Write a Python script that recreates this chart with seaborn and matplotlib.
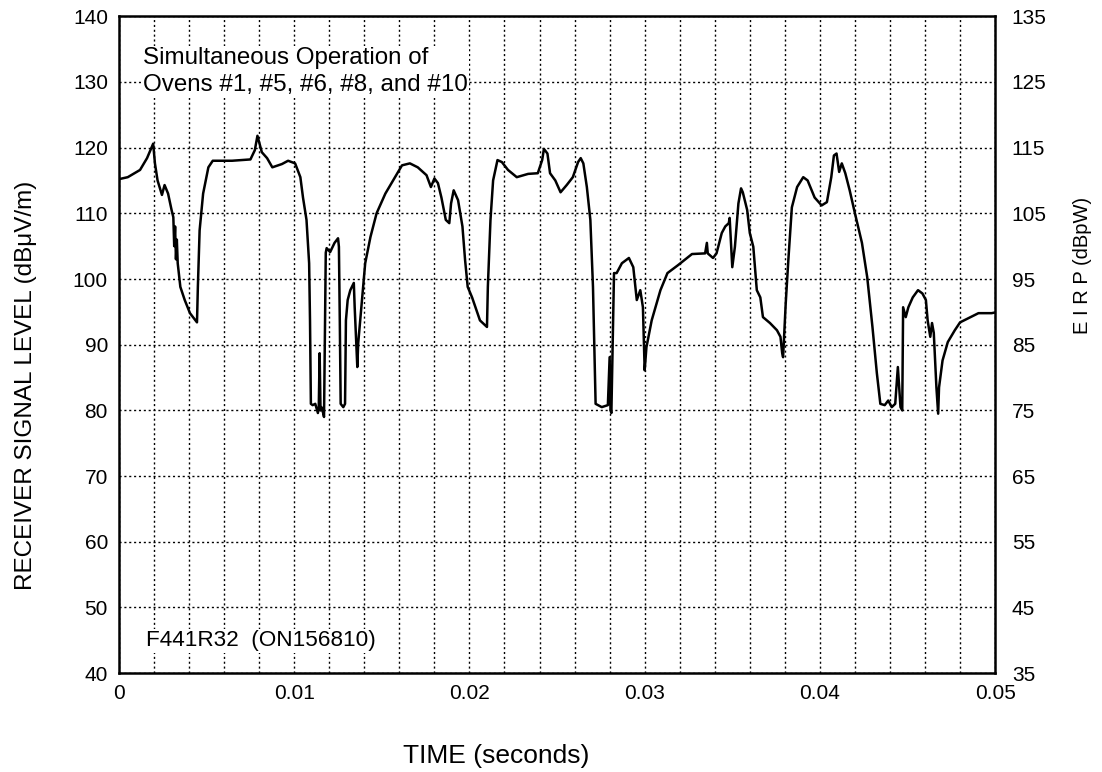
import pandas as pd
import matplotlib
matplotlib.use('Agg')
import matplotlib.pyplot as plt
import seaborn as sns

# time in milliseconds, received level in dBuV/m
time_ms = [0.0, 0.5, 1.2, 1.6, 1.95, 2.05, 2.2, 2.45, 2.6, 2.8, 3.0, 3.1, 3.15, 3.2, 3.25, 3.3, 3.35,
           3.5, 3.75, 4.05, 4.45, 4.5, 4.6, 4.8, 5.1, 5.35, 6.45, 7.5, 7.75, 7.9, 8.0, 8.15, 8.45,
           8.75, 9.3, 9.65, 10.05, 10.35, 10.5, 10.7, 10.85, 10.9, 10.95, 11.05, 11.2, 11.35, 11.4,
           11.45, 11.5, 11.55, 11.65, 11.7, 11.8, 11.85, 12.05, 12.3, 12.5, 12.55, 12.6, 12.65, 12.8,
           12.9, 12.95, 13.05, 13.2, 13.4, 13.45, 13.6, 13.65, 13.85, 14.05, 14.35, 14.7, 15.2,
           15.75, 16.15, 16.6, 17.05, 17.55, 17.8, 18.0, 18.2, 18.4, 18.65, 18.85, 18.95, 19.1,
           19.35, 19.6, 19.75, 19.9, 20.15, 20.6, 21.0, 21.05, 21.2, 21.35, 21.6, 21.85, 22.2, 22.7,
           23.35, 23.9, 24.15, 24.25, 24.45, 24.6, 24.9, 25.2, 25.55, 25.9, 26.2, 26.35, 26.5, 26.7,
           26.9, 27.05, 27.2, 27.55, 27.9, 28.0, 28.05, 28.1, 28.25, 28.4, 28.7, 29.1, 29.35, 29.55,
           29.75, 29.9, 30.0, 30.1, 30.4, 30.9, 31.3, 31.9, 32.7, 33.45, 33.55, 33.6, 33.9, 34.1,
           34.4, 34.6, 34.8, 34.85, 35.0, 35.15, 35.35, 35.5, 35.6, 35.85, 36.0, 36.2, 36.4, 36.6,
           36.75, 37.15, 37.55, 37.75, 37.85, 37.9, 38.05, 38.2, 38.4, 38.7, 39.05, 39.3, 39.7, 40.1,
           40.4, 40.65, 40.8, 40.95, 41.1, 41.25, 41.45, 41.7, 42.0, 42.4, 42.7, 43.0, 43.25, 43.45,
           43.7, 43.9, 44.1, 44.3, 44.45, 44.6, 44.7, 44.75, 44.9, 45.05, 45.3, 45.6, 45.85, 46.05,
           46.15, 46.3, 46.4, 46.5, 46.65, 46.75, 46.8, 47.0, 47.3, 47.7, 48.0, 48.45, 49.05, 49.8,
           50.0]
level_db = [115.2, 115.5, 116.6, 118.4, 120.6, 117.6, 115.0, 112.8, 114.3, 113.0, 110.5, 109.4, 105.0,
            108.0, 103.0, 106.0, 102.4, 98.8, 96.8, 94.8, 93.4, 98.8, 107.4, 113.0, 117.0, 118.0,
            118.0, 118.2, 119.6, 121.8, 120.8, 119.3, 118.4, 117.0, 117.5, 118.0, 117.6, 115.5, 112.4,
            109.0, 102.4, 93.7, 81.0, 80.8, 81.0, 79.6, 80.5, 88.7, 80.0, 80.5, 79.6, 79.0, 104.0,
            104.7, 104.1, 105.5, 106.2, 104.9, 93.7, 81.0, 80.5, 81.0, 93.7, 96.8, 98.3, 99.4, 95.7,
            86.6, 90.2, 96.3, 102.4, 106.4, 110.0, 113.0, 115.5, 117.3, 117.6, 117.0, 115.8, 114.0,
            115.3, 114.6, 112.4, 109.0, 108.5, 111.5, 113.5, 112.0, 108.0, 102.9, 98.8, 97.2, 93.7,
            92.7, 98.8, 109.0, 115.0, 118.1, 117.8, 116.6, 115.5, 116.0, 116.1, 118.1, 119.8, 119.1,
            116.1, 115.0, 113.2, 114.3, 115.5, 117.8, 118.4, 117.6, 114.0, 109.0, 98.8, 81.0, 80.5,
            80.8, 88.1, 80.0, 79.6, 100.9, 100.9, 102.4, 103.2, 101.8, 96.8, 98.3, 95.7, 86.1, 89.6,
            93.7, 98.3, 100.9, 102.1, 103.8, 103.9, 105.5, 103.9, 103.2, 103.9, 107.0, 108.0, 108.5,
            109.3, 101.8, 104.9, 111.5, 113.8, 113.2, 110.5, 107.0, 104.9, 98.3, 97.2, 94.2, 93.3,
            92.2, 91.2, 88.7, 88.1, 96.3, 102.9, 110.9, 114.0, 115.5, 115.0, 112.4, 111.2, 111.7,
            115.5, 118.8, 119.1, 116.3, 117.6, 116.1, 113.5, 110.0, 105.5, 100.3, 92.7, 85.7, 81.0,
            80.8, 81.5, 80.5, 81.0, 86.6, 80.5, 80.0, 95.7, 94.2, 95.7, 97.2, 98.3, 97.8, 96.8, 93.7,
            91.2, 93.3, 91.8, 83.5, 79.5, 83.5, 87.6, 90.4, 92.2, 93.4, 94.0, 94.8, 94.8, 94.9]

x_ticks = [0, 0.01, 0.02, 0.03, 0.04, 0.05]
x_tick_labels = ['0', '0.01', '0.02', '0.03', '0.04', '0.05']
left_ticks = [40, 50, 60, 70, 80, 90, 100, 110, 120, 130, 140]
right_ticks = [35, 45, 55, 65, 75, 85, 95, 105, 115, 125, 135]

df = pd.DataFrame({'time': [t / 1000 for t in time_ms], 'level': level_db})

sns.set_style('white')
plt.rcParams['font.family'] = ['Liberation Sans Narrow', 'Liberation Sans', 'DejaVu Sans']
plt.rcParams['text.color'] = 'black'
plt.rcParams['axes.labelcolor'] = 'black'
plt.rcParams['xtick.color'] = 'black'
plt.rcParams['ytick.color'] = 'black'

fig = plt.figure(figsize=(11.02, 7.72), dpi=100)
ax = fig.add_axes([0.108, 0.128, 0.795, 0.851])

sns.lineplot(data=df, x='time', y='level', ax=ax, color='black', linewidth=1.8,
             sort=False, estimator=None)

ax.set_xlim(0, 0.05)
ax.set_ylim(40, 140)
ax.set_xticks(x_ticks)
ax.set_xticklabels(x_tick_labels)
ax.set_xticks([i * 0.002 for i in range(26)], minor=True)
ax.set_yticks(left_ticks)
ax.grid(True, which='both', color='black', linestyle=(0, (1.5, 2.0)), linewidth=1.0)
ax.tick_params(axis='both', which='both', length=0, labelsize=15, pad=8)
for s in ax.spines.values():
    s.set_color('black')
    s.set_linewidth(1.8)

ax.set_xlabel('TIME (seconds)', fontsize=19)
ax.xaxis.set_label_coords(0.43, -0.108)
ax.set_ylabel('RECEIVER SIGNAL LEVEL (dBμV/m)', fontsize=17.5)
ax.yaxis.set_label_coords(-0.094, 0.438)

ax2 = ax.twinx()
ax2.set_ylim(35, 135)
ax2.set_yticks(right_ticks)
ax2.tick_params(axis='y', length=0, labelsize=15, pad=12)
ax2.set_ylabel('E I R P (dBpW)', fontsize=14.5)
ax2.yaxis.set_label_coords(1.089, 0.621)
for s in ax2.spines.values():
    s.set_visible(False)

box = dict(facecolor='white', edgecolor='none', pad=1)
ax.text(0.027, 0.953, 'Simultaneous Operation of\nOvens #1, #5, #6, #8, and #10',
        transform=ax.transAxes, fontsize=17.4, va='top', ha='left', linespacing=1.3, bbox=box)
ax.text(0.031, 0.049, 'F441R32  (ON156810)', transform=ax.transAxes, fontsize=16.2,
        va='center', ha='left', bbox=box)

fig.savefig('out.png', dpi=100)
